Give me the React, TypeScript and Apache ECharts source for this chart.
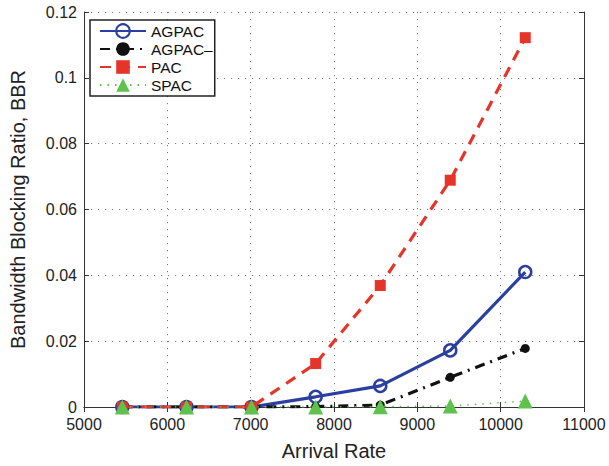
import React, { useEffect, useRef } from "react";
import * as echarts from "echarts";

const arrivalRates = [5460, 6230, 7010, 7780, 8555, 9395, 10295];
const agpac = [0, 0, 0, 0.0031, 0.0064, 0.0172, 0.041];
const agpacMinus = [0, 0, 0, 0.0001, 0.0006, 0.009, 0.0178];
const pac = [0, 0, 0, 0.0132, 0.0369, 0.0689, 0.1122];
const spac = [0, 0, 0, 0, 0.0001, 0.0003, 0.0018];
const seriesNames = ["AGPAC", "AGPAC–", "PAC", "SPAC"];

const FONT = "'Liberation Sans', Arial, Helvetica, sans-serif";
const BLUE = "#2b3f9e";
const BLACK = "#111111";
const RED = "#e5352b";
const GREEN = "#5ec24c";

const pairs = (ys: number[]) => arrivalRates.map((x, i) => [x, ys[i]]);

export default function App() {
  const ref = useRef<HTMLDivElement>(null);
  useEffect(() => {
    document.body.style.margin = "0";
    if (!ref.current) return;
    const chart = echarts.init(ref.current, undefined, { renderer: "svg" });
    const axisLine = { show: true, lineStyle: { color: "#333", width: 1 } };
    const tick = { show: true, inside: true, length: 5, lineStyle: { color: "#333" } };
    const grid = { show: true, lineStyle: { color: "#777", type: [1.2, 5.8], width: 1 } };
    chart.setOption({
      animation: false,
      backgroundColor: "#fff",
      textStyle: { fontFamily: FONT },
      grid: { left: 82, right: 25, top: 12, bottom: 58, containLabel: false },
      legend: {
        orient: "vertical",
        left: 90,
        top: 20,
        backgroundColor: "#fff",
        borderColor: "#222",
        borderWidth: 1.5,
        borderRadius: 0,
        padding: [3, 2, 3, 9],
        itemGap: 2,
        itemWidth: 46,
        itemHeight: 17,
        textStyle: { fontFamily: FONT, fontSize: 15.5, color: "#111", padding: [0, 0, 0, 0] },
        data: seriesNames,
      },
      xAxis: [
        {
          type: "value",
          min: 5000,
          max: 11000,
          interval: 1000,
          name: "Arrival Rate",
          nameLocation: "middle",
          nameGap: 34,
          nameTextStyle: { fontFamily: FONT, fontSize: 20, color: "#222" },
          axisLine,
          axisTick: tick,
          splitLine: grid,
          axisLabel: {
            fontFamily: FONT,
            fontSize: 16,
            color: "#222",
            margin: 9,
            formatter: (v: number) => String(v),
          },
        },
        {
          type: "value",
          position: "top",
          min: 5000,
          max: 11000,
          interval: 1000,
          axisLine,
          axisTick: tick,
          splitLine: { show: false },
          axisLabel: { show: false },
        },
      ],
      yAxis: [
        {
          type: "value",
          min: 0,
          max: 0.12,
          interval: 0.02,
          name: "Bandwidth Blocking Ratio, BBR",
          nameLocation: "middle",
          nameGap: 56,
          nameTextStyle: { fontFamily: FONT, fontSize: 20, color: "#222" },
          axisLine,
          axisTick: tick,
          splitLine: grid,
          axisLabel: {
            fontFamily: FONT,
            fontSize: 16,
            color: "#222",
            margin: 7,
            formatter: (v: number) => String(Number(v.toFixed(4))),
          },
        },
        {
          type: "value",
          position: "right",
          min: 0,
          max: 0.12,
          interval: 0.02,
          axisLine,
          axisTick: tick,
          splitLine: { show: false },
          axisLabel: { show: false },
        },
      ],
      series: [
        {
          name: seriesNames[0],
          type: "line",
          data: pairs(agpac),
          symbol: "circle",
          symbolSize: 12,
          lineStyle: { color: BLUE, width: 3.2, type: "solid" },
          itemStyle: { color: "rgba(255,255,255,0)", borderColor: BLUE, borderWidth: 2.5 },
          z: 3,
        },
        {
          name: seriesNames[1],
          type: "line",
          data: pairs(agpacMinus),
          symbol: "circle",
          symbolSize: 9,
          lineStyle: { color: BLACK, width: 3.2, type: [10, 6, 2, 6] },
          itemStyle: { color: BLACK },
          z: 4,
        },
        {
          name: seriesNames[2],
          type: "line",
          data: pairs(pac),
          symbol: "rect",
          symbolSize: 11,
          lineStyle: { color: RED, width: 3.2, type: [11, 8] },
          itemStyle: { color: RED },
          z: 5,
        },
        {
          name: seriesNames[3],
          type: "line",
          data: pairs(spac),
          symbol: "triangle",
          symbolSize: 15,
          lineStyle: { color: GREEN, width: 1.5, type: [1.5, 6] },
          itemStyle: { color: GREEN },
          z: 6,
        },
      ],
    });
    return () => chart.dispose();
  }, []);
  return <div ref={ref} style={{ width: 609, height: 466 }} />;
}
